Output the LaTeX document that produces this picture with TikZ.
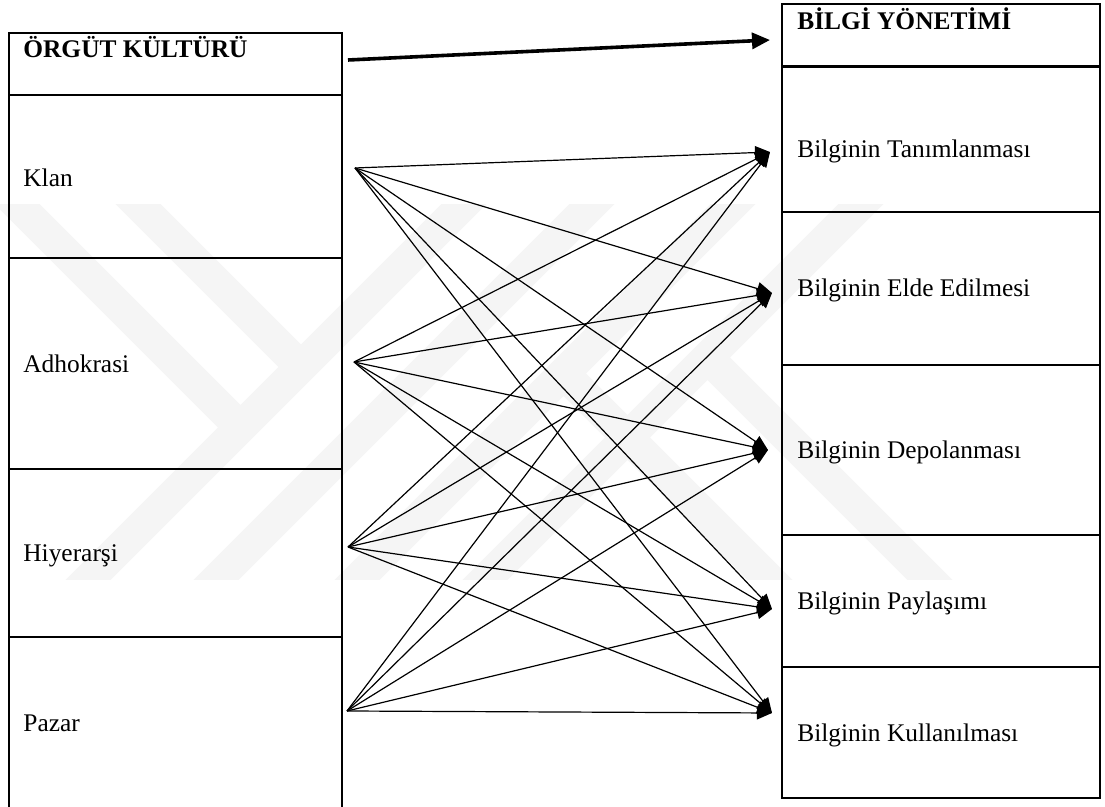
\documentclass[tikz,border=0pt]{standalone}
\usepackage{fontspec}
\setmainfont{Liberation Serif}
\usetikzlibrary{positioning,arrows.meta}

\begin{document}
\begin{tikzpicture}
[ x=0.5pt, y=-0.5pt
, every node/.style={font=\fontsize{12.7}{15}\selectfont}
, kutu/.style={draw, line width=1.2pt, outer sep=0pt, inner sep=0pt, anchor=north west}
, sol/.style={kutu, minimum width=166.5pt}
, sag/.style={kutu, minimum width=159pt}
, yazi/.style={anchor=base west, inner sep=0pt}
, baslik/.style={yazi, font=\fontsize{12.7}{15}\selectfont\bfseries}
, ok/.style={line width=0.6pt, -{Triangle[length=7.5pt,width=6.5pt]}}
, kalin/.style={line width=1.8pt, -{Triangle[length=9pt,width=8pt]}}
, iz/.style={line width=16pt, gray!8}
]
\useasboundingbox (0,0) rectangle (1105,807);

% watermark
\begin{scope}
\clip (0,205) rectangle (1105,580);
\draw[iz] (-20,167) -- (240.5,427.5);
\draw[iz] (120,186) -- (301,367);
\draw[iz] (68,600) -- (483,185);
\draw[iz] (196,600) -- (611,185);
\draw[iz] (337,600) -- (752,185);
\draw[iz] (465,600) -- (880,185);
\draw[iz] (563.5,373.5) -- (790,600);
\draw[iz] (707.5,357.5) -- (950,600);
\end{scope}

% left column
\node[sol, minimum height=31pt] (orgut) at (9,33) {};
\node[sol, minimum height=81.5pt, below=0pt of orgut] (klan) {};
\node[sol, minimum height=105.5pt, below=0pt of klan] (adho) {};
\node[sol, minimum height=84pt, below=0pt of adho] (hiyer) {};
\node[sol, minimum height=87.5pt, below=0pt of hiyer] (pazar) {};

\node[baslik] (orgutyazi) at (23,58) {ÖRGÜT KÜLTÜRÜ};
\node[yazi] (klanyazi) at (23,187) {Klan};
\node[yazi] (adhoyazi) at (23,373) {Adhokrasi};
\node[yazi] (hiyeryazi) at (23,562) {Hiyerarşi};
\node[yazi] (pazaryazi) at (23,732) {Pazar};

% right column
\node[sag, minimum height=31.25pt] (bilgi) at (782,4) {};
\node[sag, minimum height=72.75pt, below=0pt of bilgi] (tanim) {};
\node[sag, minimum height=76.5pt, below=0pt of tanim] (elde) {};
\node[sag, minimum height=85pt, below=0pt of elde] (depo) {};
\node[sag, minimum height=66pt, below=0pt of depo] (payl) {};
\node[sag, minimum height=65.5pt, below=0pt of payl] (kull) {};

\node[baslik] (bilgiyazi) at (797,30) {BİLGİ YÖNETİMİ};
\node[yazi] (tanimyazi) at (797,158) {Bilginin Tanımlanması};
\node[yazi] (eldeyazi) at (797,297) {Bilginin Elde Edilmesi};
\node[yazi] (depoyazi) at (797,459) {Bilginin Depolanması};
\node[yazi] (paylyazi) at (797,610) {Bilginin Paylaşımı};
\node[yazi] (kullyazi) at (797,742) {Bilginin Kullanılması};

% arrow ends
\coordinate (orgutc) at (348,60);
\coordinate (bilgic) at (770,40);
\coordinate (klanc) at (355,168);
\coordinate (adhoc) at (354,362);
\coordinate (hiyerc) at (348,547);
\coordinate (pazarc) at (347,711);
\coordinate (tanimc) at (770,152);
\coordinate (eldec) at (772,293);
\coordinate (depoc) at (768,450);
\coordinate (paylc) at (772,609);
\coordinate (kullc) at (772,713);

\draw[kalin] (orgutc) -- (bilgic);

\draw[ok] (klanc) -- (tanimc);
\draw[ok] (klanc) -- (eldec);
\draw[ok] (klanc) -- (depoc);
\draw[ok] (klanc) -- (paylc);
\draw[ok] (klanc) -- (kullc);
\draw[ok] (adhoc) -- (tanimc);
\draw[ok] (adhoc) -- (eldec);
\draw[ok] (adhoc) -- (depoc);
\draw[ok] (adhoc) -- (paylc);
\draw[ok] (adhoc) -- (kullc);
\draw[ok] (hiyerc) -- (tanimc);
\draw[ok] (hiyerc) -- (eldec);
\draw[ok] (hiyerc) -- (depoc);
\draw[ok] (hiyerc) -- (paylc);
\draw[ok] (hiyerc) -- (kullc);
\draw[ok] (pazarc) -- (tanimc);
\draw[ok] (pazarc) -- (eldec);
\draw[ok] (pazarc) -- (depoc);
\draw[ok] (pazarc) -- (paylc);
\draw[ok] (pazarc) -- (kullc);

\end{tikzpicture}
\end{document}
